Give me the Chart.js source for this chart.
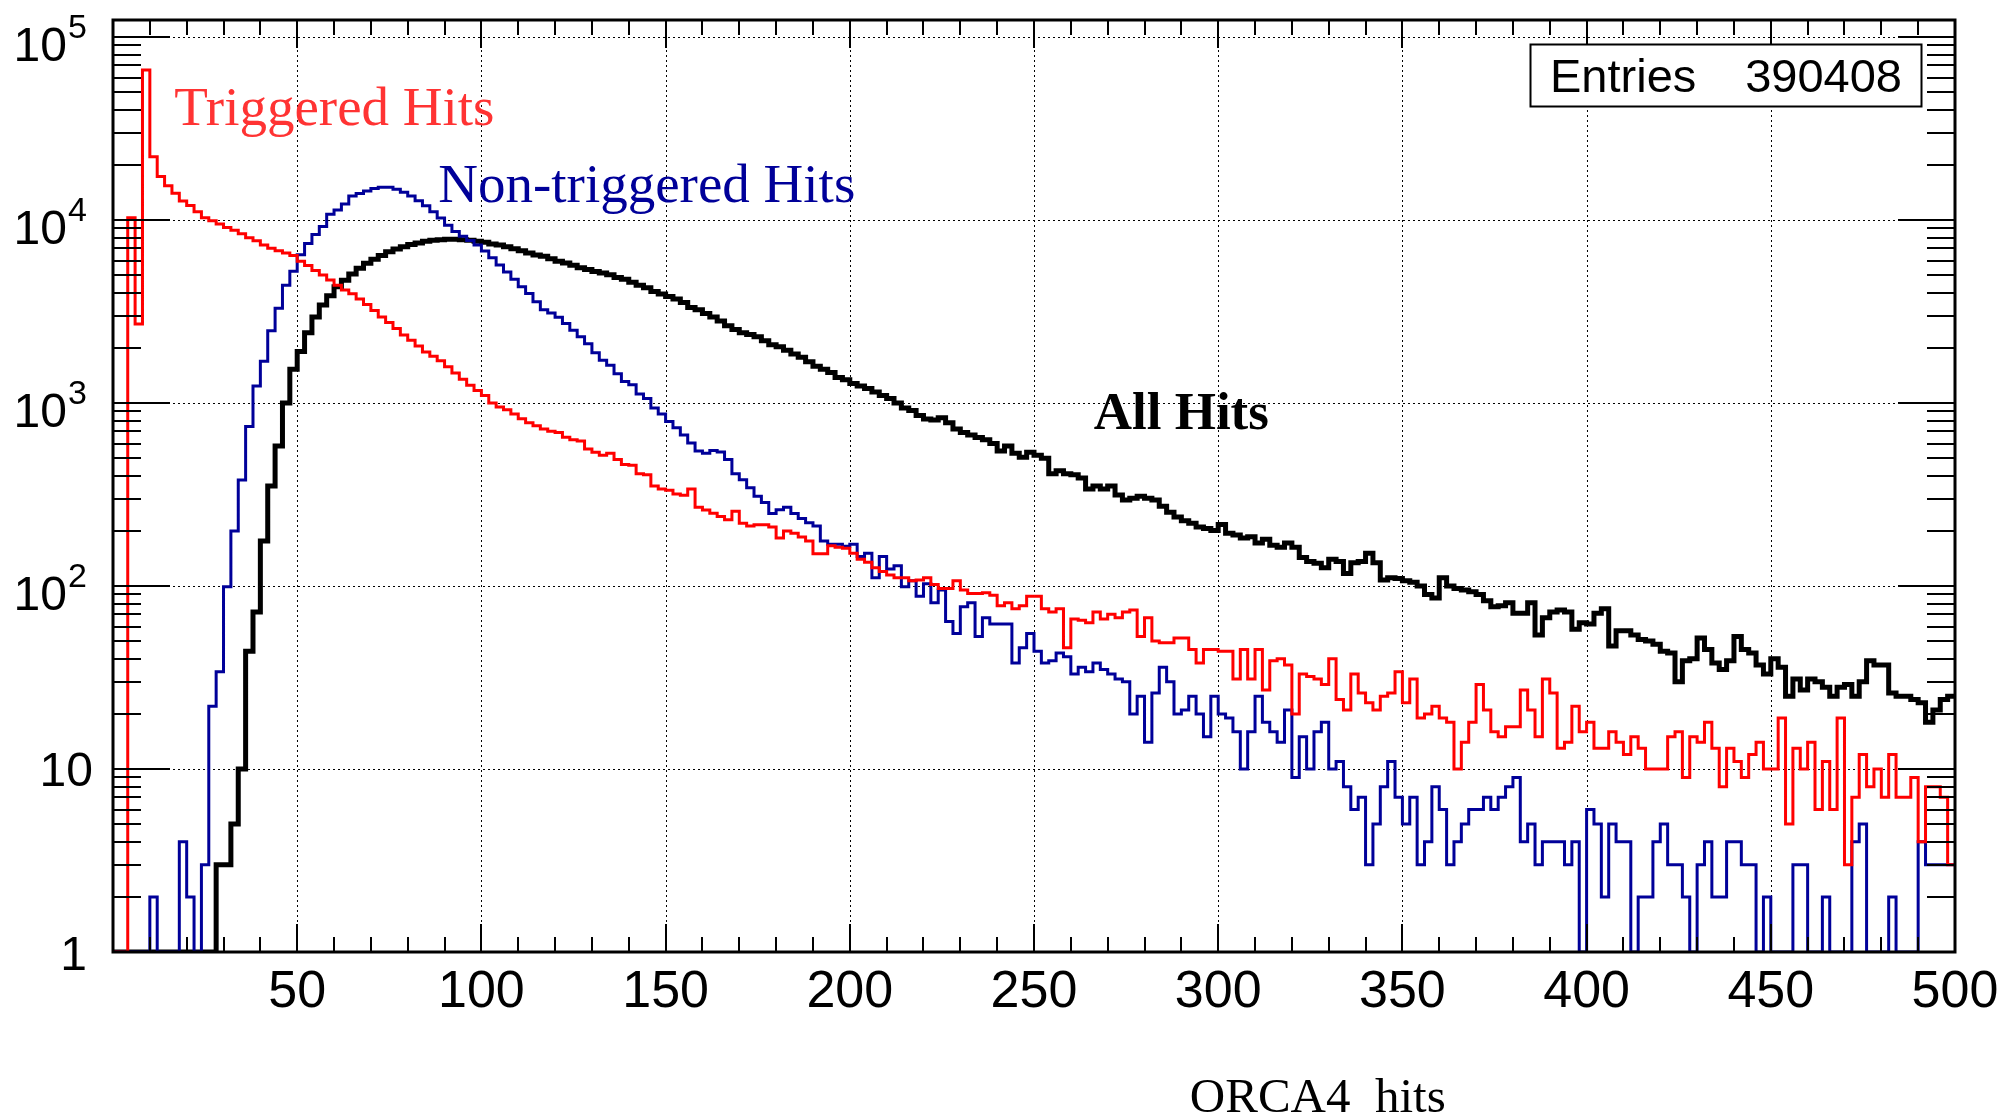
<!DOCTYPE html>
<html>
<head>
<meta charset="utf-8">
<title>ORCA4 hits</title>
<script src="https://cdn.jsdelivr.net/npm/chart.js@4.4.1/dist/chart.umd.min.js"></script>
<style>
  html, body { margin: 0; padding: 0; background: #fff; }
  #hitsChart { display: block; }
</style>
</head>
<body>
<canvas id="hitsChart" width="2004" height="1116"></canvas>
<script>
// Hit-count histograms, 2-hit bins from 0 to 500 (counts per bin)
const binWidth = 2;

const triggeredHits = [
  0, 0, 10300, 2700, 66000, 22200, 17300, 15400, 14000, 12700,
  12000, 11100, 10300, 9900, 9500, 9100, 8800, 8400, 8000, 7700,
  7300, 7000, 6800, 6600, 6400, 5950, 5650, 5300, 5000, 4700,
  4400, 4150, 3950, 3700, 3450, 3200, 2950, 2750, 2550, 2350,
  2200, 2050, 1900, 1800, 1700, 1580, 1460, 1350, 1250, 1170,
  1100, 1000, 950, 920, 870, 820, 780, 750, 720, 700,
  690, 650, 630, 620, 560, 538, 518, 532, 491, 461,
  457, 411, 405, 352, 339, 334, 318, 313, 339, 269,
  260, 250, 240, 230, 256, 220, 213, 216, 216, 210,
  183, 200, 194, 185, 176, 150, 150, 166, 163, 161,
  151, 140, 135, 126, 120, 115, 111, 111, 107, 108,
  111, 102, 97, 97, 107, 95, 91, 91, 92, 89,
  78, 81, 75, 78, 88, 88, 75, 72, 75, 46,
  66, 65, 63, 72, 66, 70, 67, 72, 74, 53,
  67, 50, 49, 49, 52, 52, 45, 38, 45, 45,
  44, 44, 31, 45, 31, 45, 27, 39, 40, 37,
  20, 33, 32, 31, 29, 40, 24, 21, 33, 26,
  23, 21, 25, 26, 34, 23, 31, 19, 20, 22,
  19, 18, 10, 14, 18, 29, 21, 16, 15, 17,
  17, 27, 21, 15, 31, 26, 13, 14, 22, 16,
  18, 13, 13, 16, 14, 12, 15, 13, 10, 10,
  10, 15, 16, 9, 15, 14, 18, 13, 8, 13,
  11, 9, 12, 14, 10, 10, 19, 5, 13, 10,
  14, 6, 11, 6, 19, 3, 7, 12, 8, 10,
  7, 12, 7, 7, 9, 4, 8, 8, 7, 3
];

const nonTriggeredHits = [
  0, 0, 0, 0, 0, 2, 0, 0, 0, 4,
  2, 0, 3, 22, 34, 99, 200, 380, 745, 1240,
  1690, 2480, 3300, 4400, 5250, 6450, 7430, 8340, 9210, 10750,
  11350, 12250, 13540, 13960, 14400, 14850, 15100, 15100, 14750, 14200,
  13540, 12740, 11970, 11090, 10270, 9360, 8660, 8150, 7720, 7310,
  6770, 6220, 5670, 5200, 4740, 4320, 3970, 3570, 3230, 3100,
  2940, 2720, 2500, 2300, 2110, 1880, 1710, 1610, 1445, 1310,
  1260, 1120, 1060, 940, 870, 792, 733, 668, 605, 547,
  531, 551, 540, 491, 411, 381, 344, 309, 286, 249,
  261, 269, 249, 234, 222, 213, 176, 169, 169, 165,
  169, 145, 151, 111, 145, 124, 129, 99, 107, 88,
  103, 81, 95, 64, 55, 77, 81, 53, 67, 62,
  62, 62, 38, 46, 55, 44, 38, 39, 43, 41,
  33, 36, 34, 38, 35, 33, 31, 30, 20, 25,
  14, 26, 36, 30, 20, 21, 25, 20, 15, 25,
  20, 19, 16, 10, 16, 25, 18, 16, 14, 21,
  9, 15, 10, 16, 18, 10, 11, 8, 6, 7,
  3, 5, 8, 11, 7, 5, 7, 3, 4, 8,
  6, 3, 4, 5, 6, 6, 7, 6, 7, 8,
  9, 4, 5, 3, 4, 4, 4, 3, 4, 0,
  6, 5, 2, 5, 4, 4, 0, 2, 2, 4,
  5, 3, 3, 2, 0, 3, 4, 2, 2, 4,
  4, 3, 3, 0, 2, 0, 0, 0, 3, 3,
  0, 0, 2, 0, 0, 0, 4, 5, 0, 0,
  0, 2, 0, 0, 0, 4, 3, 3, 3, 3
];

const allHits = [
  0, 0, 0, 0, 0, 0, 0, 0, 0, 0,
  0, 0, 0, 0, 3, 3, 5, 10, 44, 72,
  176, 352, 582, 1000, 1530, 1910, 2420, 2950, 3430, 3850,
  4320, 4680, 5070, 5450, 5800, 6100, 6400, 6700, 6950, 7150,
  7350, 7500, 7650, 7750, 7800, 7850, 7850, 7800, 7750, 7650,
  7550, 7400, 7310, 7140, 6960, 6800, 6600, 6430, 6330, 6140,
  5960, 5830, 5660, 5490, 5360, 5230, 5130, 5020, 4850, 4740,
  4570, 4400, 4260, 4070, 3940, 3820, 3700, 3540, 3330, 3230,
  3080, 2950, 2810, 2640, 2520, 2420, 2370, 2300, 2190, 2080,
  2030, 1940, 1850, 1780, 1680, 1590, 1530, 1470, 1380, 1340,
  1280, 1240, 1200, 1150, 1100, 1060, 1000, 940, 910, 855,
  817, 808, 830, 780, 722, 690, 668, 648, 629, 600,
  547, 582, 531, 506, 538, 518, 499, 411, 427, 411,
  405, 389, 339, 352, 339, 352, 314, 295, 302, 309,
  302, 295, 273, 253, 238, 227, 220, 210, 206, 201,
  217, 194, 190, 183, 186, 172, 180, 167, 163, 172,
  163, 143, 136, 133, 126, 140, 136, 117, 134, 136,
  151, 134, 108, 111, 110, 107, 105, 100, 90, 86,
  111, 100, 97, 95, 93, 90, 83, 77, 78, 81,
  71, 71, 81, 54, 67, 72, 74, 72, 58, 63,
  62, 71, 75, 47, 57, 57, 54, 51, 50, 48,
  44, 43, 30, 39, 40, 52, 45, 38, 35, 39,
  53, 45, 43, 37, 33, 40, 36, 25, 31, 27,
  31, 30, 28, 25, 28, 29, 25, 30, 39, 37,
  37, 26, 25, 25, 24, 23, 18, 21, 24, 25
];

const xTickValues = [50, 100, 150, 200, 250, 300, 350, 400, 450, 500];
const yTickValues = [1, 10, 100, 1000, 10000, 100000];
const seriesNames = ['Triggered Hits', 'Non-triggered Hits', 'All Hits'];
const xTitle = 'ORCA4  hits';
const entries = 390408;

const xMin = 0, xMax = 500;
const yMin = 1, yMax = Math.pow(10, 5.093);

const SANS = '"Liberation Sans", Arial, Helvetica, sans-serif';
const SERIF = '"Liberation Serif", "Times New Roman", serif';

// histogram outline: one point per bin low edge, plus the closing edge.
// empty bins sit on the axis floor, the way ROOT draws them
function histPoints(counts) {
  const pts = counts.map((c, i) => ({ x: i * binWidth, y: c > 0 ? c : yMin }));
  pts.push({ x: counts.length * binWidth, y: pts[pts.length - 1].y });
  return pts;
}

function exponentOf(v) {
  return Math.round(Math.log10(v));
}

// ROOT-like frame: dotted grid, inward ticks on four sides, labels, texts
const rootFrame = {
  id: 'rootFrame',
  beforeDatasetsDraw(chart) {
    const { ctx, chartArea: a, scales: { x, y } } = chart;
    ctx.save();
    ctx.strokeStyle = '#000';
    ctx.lineWidth = 1;
    ctx.setLineDash([2, 3]);
    ctx.beginPath();
    xTickValues.forEach(v => {
      if (v >= xMax) return;
      const px = Math.round(x.getPixelForValue(v)) + 0.5;
      ctx.moveTo(px, a.top);
      ctx.lineTo(px, a.bottom);
    });
    yTickValues.forEach(v => {
      if (v <= yMin) return;
      const py = Math.round(y.getPixelForValue(v)) + 0.5;
      ctx.moveTo(a.left, py);
      ctx.lineTo(a.right, py);
    });
    ctx.stroke();
    ctx.restore();
  },
  afterDatasetsDraw(chart) {
    const { ctx, chartArea: a, scales: { x, y } } = chart;
    ctx.save();
    ctx.setLineDash([]);
    ctx.strokeStyle = '#000';
    ctx.fillStyle = '#000';

    // tick marks
    ctx.lineWidth = 2;
    ctx.beginPath();
    for (let v = xMin; v <= xMax; v += 10) {
      const px = Math.round(x.getPixelForValue(v));
      const len = v % 50 === 0 ? 28 : 15;
      ctx.moveTo(px, a.bottom);
      ctx.lineTo(px, a.bottom - len);
      ctx.moveTo(px, a.top);
      ctx.lineTo(px, a.top + len);
    }
    yTickValues.forEach(d => {
      for (let m = 1; m < 10; m++) {
        const v = d * m;
        if (v < yMin || v > yMax) continue;
        const py = Math.round(y.getPixelForValue(v));
        const len = m === 1 ? 57 : 28;
        ctx.moveTo(a.left, py);
        ctx.lineTo(a.left + len, py);
        ctx.moveTo(a.right, py);
        ctx.lineTo(a.right - len, py);
      }
    });
    ctx.stroke();

    // frame
    ctx.lineWidth = 3;
    ctx.strokeRect(a.left, a.top, a.right - a.left, a.bottom - a.top);

    // x tick labels
    ctx.font = '52px ' + SANS;
    ctx.textAlign = 'center';
    ctx.textBaseline = 'alphabetic';
    xTickValues.forEach(v => {
      ctx.fillText(String(v), x.getPixelForValue(v), a.bottom + 55);
    });

    // y tick labels, powers of ten with raised exponent
    yTickValues.forEach(v => {
      const py = y.getPixelForValue(v);
      const e = exponentOf(v);
      ctx.font = '48px ' + SANS;
      ctx.textAlign = 'right';
      if (e === 0) {
        ctx.fillText('1', a.left - 26, py + 18);
      } else if (e === 1) {
        ctx.fillText('10', a.left - 20, py + 17);
      } else {
        ctx.fillText('10', a.left - 46, py + 24);
        ctx.font = '34px ' + SANS;
        ctx.textAlign = 'left';
        ctx.fillText(String(e), a.left - 45, py + 1);
      }
    });

    // axis title
    ctx.font = '49px ' + SERIF;
    ctx.textAlign = 'left';
    ctx.fillText(xTitle, x.getPixelForValue(292.3), a.bottom + 160);

    // series captions
    ctx.font = '55px ' + SERIF;
    ctx.fillStyle = '#ff3333';
    ctx.fillText(seriesNames[0], x.getPixelForValue(16.6), y.getPixelForValue(33000));
    ctx.fillStyle = '#000099';
    ctx.fillText(seriesNames[1], x.getPixelForValue(88.3), y.getPixelForValue(12500));
    ctx.font = 'bold 53px ' + SERIF;
    ctx.fillStyle = '#000';
    ctx.fillText(seriesNames[2], x.getPixelForValue(266.2), y.getPixelForValue(720));

    // statistics box
    const bw = 391, bh = 62;
    const bx = a.right - 34 - bw, by = a.top + 24;
    ctx.fillStyle = '#fff';
    ctx.fillRect(bx, by, bw, bh);
    ctx.lineWidth = 2;
    ctx.strokeRect(bx + 0.5, by + 0.5, bw, bh);
    ctx.fillStyle = '#000';
    ctx.font = '47px ' + SANS;
    ctx.textAlign = 'left';
    ctx.fillText('Entries', bx + 20, by + 48);
    ctx.textAlign = 'right';
    ctx.fillText(String(entries), bx + bw - 19, by + 48);

    ctx.restore();
  }
};

const ctx = document.getElementById('hitsChart');

new Chart(ctx, {
  type: 'line',
  data: {
    datasets: [{
      label: seriesNames[0],
      data: histPoints(triggeredHits),
      borderColor: '#ff0000',
      borderWidth: 3
    }, {
      label: seriesNames[1],
      data: histPoints(nonTriggeredHits),
      borderColor: '#000099',
      borderWidth: 3
    }, {
      label: seriesNames[2],
      data: histPoints(allHits),
      borderColor: '#000000',
      borderWidth: 5
    }]
  },
  options: {
    responsive: false,
    animation: false,
    devicePixelRatio: 1,
    layout: {
      padding: { left: 0, right: 49, top: 20, bottom: 0 }
    },
    datasets: {
      line: {
        stepped: 'before',
        pointRadius: 0,
        fill: false,
        tension: 0,
        borderJoinStyle: 'miter'
      }
    },
    plugins: {
      legend: { display: false },
      tooltip: { enabled: false }
    },
    scales: {
      x: {
        type: 'linear',
        min: xMin,
        max: xMax,
        grid: { display: false, drawTicks: false },
        border: { display: false },
        ticks: { display: false },
        afterFit: s => { s.height = 164; }
      },
      y: {
        type: 'logarithmic',
        min: yMin,
        max: yMax,
        grid: { display: false, drawTicks: false },
        border: { display: false },
        ticks: { display: false },
        afterFit: s => { s.width = 113; }
      }
    }
  },
  plugins: [rootFrame]
});
</script>
</body>
</html>
